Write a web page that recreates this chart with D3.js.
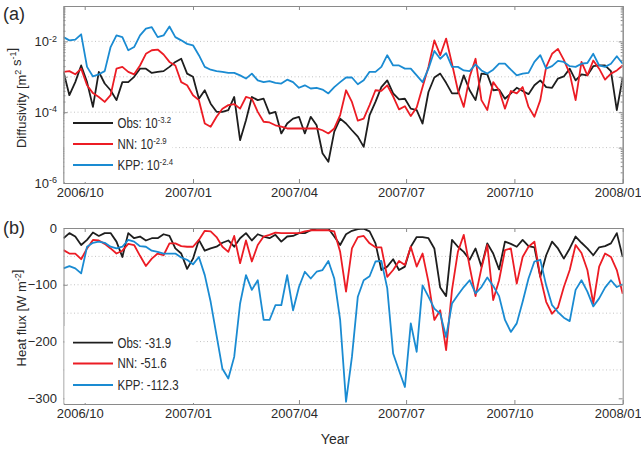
<!DOCTYPE html>
<html>
<head>
<meta charset="utf-8">
<script src="https://cdn.jsdelivr.net/npm/d3@7"></script>
<style>
  body { margin: 0; background: #fff; }
  svg { font-family: "Liberation Sans", Arial, sans-serif; }
</style>
</head>
<body>
<svg id="chart" width="641" height="449"></svg>
<script>
// sample every 5 days starting 2006-09-13
const startDate = new Date(Date.UTC(2006, 8, 13));
const endDate = new Date(Date.UTC(2008, 0, 1));
const sampleDays = d3.range(0, 476, 5);
const tickDates = ["2006-10-01", "2007-01-01", "2007-04-01", "2007-07-01", "2007-10-01", "2008-01-01"];

const seriesNames = ["Obs", "NN", "KPP"];
const diffMeans = ["-3.2", "-2.9", "-2.4"];   // exponent of mean diffusivity
const fluxMeans = ["-31.9", "-51.6", "-112.3"];

// (a) diffusivity, log10 of m2/s
const obsDiff = [
  -2.86,-3.52,-3.15,-2.68,-3.15,-3.85,-2.86,-3.19,-3.38,-3.66,
  -3.15,-3.15,-3.00,-2.77,-2.77,-2.89,-2.86,-2.84,-2.72,-2.58,
  -2.49,-2.91,-3.00,-3.62,-3.38,-3.76,-3.99,-3.99,-3.94,-3.57,
  -4.79,-4.23,-3.57,-3.66,-3.62,-4.04,-3.99,-4.60,-4.32,-4.18,
  -4.13,-4.60,-4.13,-4.37,-5.16,-5.40,-4.55,-4.18,-4.32,-4.51,
  -4.69,-4.98,-4.08,-3.71,-3.29,-3.10,-3.47,-3.64,-3.62,-3.90,
  -3.94,-4.32,-3.43,-3.02,-2.91,-3.17,-3.47,-3.47,-2.96,-3.38,
  -3.66,-2.91,-2.93,-3.38,-3.36,-3.62,-3.47,-3.31,-3.40,-3.49,
  -3.24,-3.10,-3.29,-3.31,-3.05,-2.99,-2.77,-3.10,-2.93,-2.96,
  -2.70,-2.68,-2.68,-2.84,-3.94,-3.02
];
const nnDiff = [
  -2.86,-2.84,-2.93,-2.77,-3.24,-3.46,-3.57,-3.71,-3.52,-2.77,
  -2.72,-2.86,-2.93,-2.68,-2.35,-2.25,-2.23,-2.37,-2.58,-2.68,
  -3.15,-3.24,-3.52,-3.66,-4.32,-4.41,-4.13,-3.90,-3.80,-3.77,
  -3.90,-3.57,-3.62,-3.99,-4.27,-4.29,-4.37,-4.41,-4.46,-4.46,
  -4.46,-4.46,-4.46,-4.46,-4.51,-4.60,-4.46,-4.08,-3.38,-3.71,
  -4.24,-4.18,-3.80,-3.38,-3.40,-3.24,-3.55,-3.92,-3.83,-4.11,
  -3.87,-3.29,-2.72,-1.97,-2.39,-1.92,-2.63,-3.38,-3.85,-3.00,
  -2.49,-3.66,-3.94,-3.15,-3.38,-3.90,-3.40,-3.47,-3.29,-3.85,
  -4.13,-3.66,-2.72,-2.35,-2.21,-2.52,-2.91,-3.66,-2.58,-2.96,
  -2.54,-2.77,-3.08,-2.91,-2.82,-2.68
];
const kppDiff = [
  -1.88,-1.97,-1.95,-1.80,-2.72,-2.99,-2.93,-2.84,-2.16,-1.83,
  -1.88,-2.25,-2.16,-1.83,-1.64,-1.60,-1.88,-1.83,-1.58,-1.88,
  -1.97,-2.07,-2.11,-2.39,-2.72,-2.80,-2.84,-2.86,-2.89,-2.89,
  -2.96,-3.05,-2.91,-3.10,-3.15,-3.12,-3.17,-3.19,-3.08,-3.15,
  -3.31,-3.24,-3.33,-3.31,-3.36,-3.47,-3.29,-3.15,-3.02,-3.02,
  -3.21,-3.10,-2.86,-2.86,-2.72,-2.39,-2.68,-2.68,-2.77,-2.77,
  -2.96,-3.15,-2.77,-2.27,-2.49,-2.33,-2.72,-2.72,-2.82,-2.84,
  -2.65,-2.82,-2.91,-2.80,-2.63,-2.63,-2.80,-2.96,-2.91,-2.89,
  -2.58,-2.39,-2.77,-2.70,-2.55,-2.58,-2.70,-2.72,-2.63,-2.61,
  -2.35,-2.68,-2.72,-2.63,-2.42,-2.63
];

// (b) heat flux, W/m2
const obsFlux = [
  -18,-9,-15,-30,-21,-8,-14,-9,-9,-24,
  -51,-9,-18,-15,-22,-18,-18,-11,-14,-36,
  -45,-72,-54,-21,-40,-36,-33,-26,-22,-33,
  -18,-9,-22,-11,-15,-18,-12,-24,-15,-14,
  -9,-9,-4,-1,-1,-1,-15,-30,-11,-5,
  -2,-1,-6,-27,-74,-68,-55,-74,-68,-33,
  -16,-16,-18,-36,-105,-120,-21,-33,-42,-56,
  -36,-68,-27,-45,-73,-24,-28,-33,-21,-32,
  -34,-86,-48,-24,-36,-54,-36,-15,-26,-36,
  -48,-34,-32,-27,-9,-51
];
const nnFlux = [
  -39,-45,-45,-55,-36,-21,-22,-28,-36,-45,
  -40,-28,-30,-49,-67,-54,-45,-48,-27,-27,
  -32,-33,-33,-21,-5,-6,-16,-33,-42,-14,
  -62,-22,-59,-30,-15,-12,-8,-9,-9,-9,
  -9,-6,-4,-4,-4,-4,-6,-42,-112,-36,
  -16,-14,-27,-34,-34,-86,-74,-58,-65,-33,
  -68,-45,-95,-162,-145,-215,-109,-42,-12,-68,
  -120,-71,-30,-127,-92,-39,-36,-98,-51,-33,
  -24,-86,-130,-151,-140,-104,-74,-30,-44,-74,
  -133,-68,-45,-51,-74,-116
];
const kppFlux = [
  -71,-67,-71,-80,-33,-26,-24,-26,-33,-36,
  -33,-21,-24,-32,-33,-40,-42,-45,-45,-45,
  -52,-56,-64,-51,-83,-130,-189,-248,-265,-227,
  -133,-83,-109,-92,-162,-162,-136,-136,-83,-145,
  -104,-77,-89,-77,-74,-58,-89,-162,-306,-227,
  -121,-92,-85,-59,-58,-106,-221,-251,-280,-168,
  -218,-101,-121,-142,-151,-192,-133,-118,-104,-92,
  -115,-104,-87,-102,-120,-162,-183,-168,-130,-89,
  -59,-56,-101,-136,-148,-158,-164,-109,-92,-112,
  -138,-124,-105,-92,-104,-99
];

const colors = ["#1e1e1e", "#ec1c24", "#1a8bd2"];
const frameColor = "#8a8a8a";
const textColor = "#2a2a2a";

const svg = d3.select("#chart");
const dates = sampleDays.map(d => d3.utcDay.offset(startDate, d));
const x = d3.scaleUtc().domain([startDate, endDate]).range([63.5, 622.7]);
const x0 = x.range()[0], x1 = x.range()[1];
const ticksX = tickDates.map(s => new Date(s + "T00:00:00Z"));

const yA = d3.scaleLog().domain([1e-6, 1e-1]).range([183, 6]);
const yB = d3.scaleLinear().domain([-310, 0]).range([404, 228]);

function styleAxis(g) {
  g.selectAll(".domain").attr("stroke", frameColor);
  g.selectAll(".tick line").attr("stroke", frameColor);
  g.selectAll("text").attr("fill", textColor).attr("font-size", 13)
    .attr("font-family", "Liberation Sans, Arial, sans-serif");
}

function addSup(sel, base, sup, size) {
  sel.append("tspan").text(base);
  sel.append("tspan").attr("dy", "-0.5em").attr("font-size", size).text(sup);
}

function drawPanel(opts) {
  const { y, grid, series, clipId, top, bottom, value } = opts;

  svg.append("defs").append("clipPath").attr("id", clipId)
    .append("rect").attr("x", x0).attr("y", top).attr("width", x1 - x0).attr("height", bottom - top);

  // dotted grid
  svg.append("g").selectAll("line").data(grid).join("line")
    .attr("x1", x0).attr("x2", x1)
    .attr("y1", d => y(d)).attr("y2", d => y(d))
    .attr("stroke", "#b5b5b5").attr("stroke-width", 0.8)
    .attr("stroke-dasharray", "1,2.5");

  const line = d3.line().x((d, i) => x(dates[i])).y(d => y(value(d)));
  const lines = svg.append("g").attr("clip-path", `url(#${clipId})`);
  series.forEach((s, k) => {
    lines.append("path").datum(s).attr("d", line)
      .attr("fill", "none").attr("stroke", colors[k])
      .attr("stroke-width", 1.8).attr("stroke-linejoin", "round");
  });

  // x axes (bottom with labels, top ticks only)
  svg.append("g").attr("transform", `translate(0,${bottom})`)
    .call(d3.axisBottom(x).tickValues(ticksX).tickFormat(d3.utcFormat("%Y/%m"))
      .tickSizeInner(-4).tickSizeOuter(0).tickPadding(5))
    .call(styleAxis)
    .call(g => g.selectAll("text").attr("dx", -5));
  svg.append("g").attr("transform", `translate(0,${top})`)
    .call(d3.axisTop(x).tickValues(ticksX).tickFormat("").tickSizeInner(-4).tickSizeOuter(0))
    .call(styleAxis);
}

// ---------- panel (a)
drawPanel({
  y: yA, grid: [1e-5, 1e-4, 1e-3, 1e-2], series: [obsDiff, nnDiff, kppDiff],
  clipId: "clipA", top: 6, bottom: 183, value: d => Math.pow(10, d)
});

const minorA = yA.ticks().filter(d => Math.abs(Math.log10(d) % 1) > 1e-6);
const decadesA = [1e-6, 1e-5, 1e-4, 1e-3, 1e-2, 1e-1];
[[d3.axisLeft, x0], [d3.axisRight, x1]].forEach(([ax, pos], side) => {
  const gMinor = svg.append("g").attr("transform", `translate(${pos},0)`)
    .call(ax(yA).tickValues(minorA).tickFormat("").tickSizeInner(-2).tickSizeOuter(0))
    .call(styleAxis);
  const gMajor = svg.append("g").attr("transform", `translate(${pos},0)`)
    .call(ax(yA).tickValues(decadesA).tickFormat("").tickSizeInner(-4).tickSizeOuter(0).tickPadding(6.5))
    .call(styleAxis);
  if (side === 0) {
    gMajor.selectAll(".tick").filter(d => [1e-6, 1e-4, 1e-2].includes(d))
      .select("text")
      .each(function (d) {
        const t = d3.select(this).text(null);
        addSup(t, "10", String(Math.round(Math.log10(d))), 9);
      });
  }
});

// ---------- panel (b)
drawPanel({
  y: yB, grid: [-250, -200, -150, -100, -50], series: [obsFlux, nnFlux, kppFlux],
  clipId: "clipB", top: 228, bottom: 404, value: d => d
});
[[d3.axisLeft, x0], [d3.axisRight, x1]].forEach(([ax, pos], side) => {
  svg.append("g").attr("transform", `translate(${pos},0)`)
    .call(ax(yB).tickValues([0, -100, -200, -300]).tickFormat(side === 0 ? d3.format("d") : "")
      .tickSizeInner(-4).tickSizeOuter(0).tickPadding(6.5))
    .call(styleAxis);
});

// ---------- legends
function legend(box, rows, labels, supLabels) {
  svg.append("rect").attr("x", box[0]).attr("y", box[1])
    .attr("width", box[2]).attr("height", box[3]).attr("fill", "#fff");
  rows.forEach((ry, k) => {
    svg.append("line").attr("x1", 73).attr("x2", 113).attr("y1", ry).attr("y2", ry)
      .attr("stroke", colors[k]).attr("stroke-width", 1.8);
    const t = svg.append("text")
      .attr("transform", `translate(117.5,${ry + 4.8}) scale(0.82,1)`)
      .attr("font-size", 14).attr("fill", textColor);
    if (supLabels) addSup(t, `${seriesNames[k]}: 10`, labels[k], 9.5);
    else t.text(`${seriesNames[k]}: ${labels[k]}`);
  });
}
legend([64.5, 114, 108, 68], [123, 144, 165], diffMeans, true);
legend([64.5, 326, 130, 77], [342.7, 363.5, 385], fluxMeans, false);

// ---------- titles
function yTitle(cx, cy, parts) {
  const t = svg.append("text").attr("transform", `translate(${cx},${cy}) rotate(-90)`)
    .attr("text-anchor", "middle").attr("font-size", 13).attr("fill", textColor);
  parts.forEach(([s, sup]) => {
    if (sup) t.append("tspan").attr("dy", -5).attr("font-size", 9).text(s);
    else t.append("tspan").attr("dy", t.node().childNodes.length && t.node().lastChild.getAttribute("font-size") ? 5 : 0).text(s);
  });
}
yTitle(26, 98, [["Diffusivity [m"], ["2", true], [" s"], ["-1", true], ["]"]]);
yTitle(26, 318, [["Heat flux [W m"], ["-2", true], ["]"]]);

svg.append("text").attr("x", 3).attr("y", 20).attr("font-size", 18).attr("fill", textColor).text("(a)");
svg.append("text").attr("x", 3).attr("y", 234).attr("font-size", 18).attr("fill", textColor).text("(b)");
svg.append("text").attr("x", 335).attr("y", 444).attr("text-anchor", "middle")
  .attr("font-size", 14).attr("fill", textColor).text("Year");
</script>
</body>
</html>
